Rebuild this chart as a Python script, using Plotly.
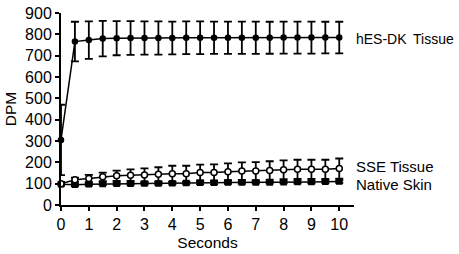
import plotly.graph_objects as go

seconds = [0, 0.5, 1, 1.5, 2, 2.5, 3, 3.5, 4, 4.5, 5, 5.5, 6, 6.5, 7, 7.5, 8, 8.5, 9, 9.5, 10]

hes_mean = [305, 766, 773, 780, 782, 783, 783, 783, 783, 784, 784, 784, 784, 784, 784, 784, 785, 785, 785, 785, 785]
hes_err = [165, 93, 88, 83, 80, 79, 78, 78, 77, 77, 77, 76, 76, 76, 76, 75, 75, 75, 75, 74, 74]

sse_mean = [100, 118, 124, 132, 137, 140, 141, 144, 147, 147, 152, 152, 156, 159, 159, 162, 165, 167, 167, 167, 171]
sse_err = [8, 10, 17, 20, 24, 27, 31, 33, 37, 37, 37, 38, 39, 41, 42, 43, 44, 45, 45, 45, 47]

nat_mean = [97, 95, 97, 99, 100, 100, 101, 101, 102, 103, 104, 104, 105, 105, 106, 106, 107, 108, 108, 109, 110]
nat_err = [6, 6, 6, 6, 6, 6, 6, 6, 6, 6, 6, 6, 6, 6, 6, 6, 6, 6, 6, 6, 6]

series_labels = ["hES-DK\u2009 Tissue", "SSE Tissue", "Native Skin"]
label_y = [778, 180, 96]
label_size = [14, 15, 15]

x_ticks = list(range(0, 11))
y_ticks = list(range(0, 901, 100))

FONT = "Liberation Sans, Arial, sans-serif"

fig = go.Figure()

def add_series(y, err, symbol, size, fillcolor):
    fig.add_trace(go.Scatter(
        x=seconds, y=y, mode="lines+markers",
        line=dict(color="black", width=1.5),
        marker=dict(symbol=symbol, size=size, color=fillcolor,
                    line=dict(color="black", width=1.5)),
        error_y=dict(type="data", array=err, visible=True, color="black",
                     thickness=1.8, width=4),
        cliponaxis=False, showlegend=False,
    ))

add_series(nat_mean, nat_err, "square", 5, "black")
add_series(sse_mean, sse_err, "circle", 6, "white")
add_series(hes_mean, hes_err, "circle", 5, "black")

for lab, yy, sz in zip(series_labels, label_y, label_size):
    fig.add_annotation(x=1.0, y=yy, xref="paper", yref="y", text=lab,
                       showarrow=False, xanchor="left", yanchor="middle",
                       font=dict(family=FONT, size=sz, color="black"))

fig.update_layout(
    width=459, height=254,
    margin=dict(l=61, r=105, t=13, b=49),
    paper_bgcolor="white", plot_bgcolor="white",
    font=dict(family=FONT, color="black"),
)
fig.update_xaxes(
    range=[0, 10.53], tickvals=x_ticks, ticktext=[str(v) for v in x_ticks],
    showline=True, linecolor="black", linewidth=2, showgrid=False, zeroline=False,
    ticks="outside", ticklen=4, tickwidth=2, tickcolor="black",
    tickfont=dict(size=16, family=FONT), automargin=False,
    title=dict(text="Seconds", font=dict(size=15.5, family=FONT), standoff=5),
)
fig.update_yaxes(
    range=[0, 900], tickvals=y_ticks, ticktext=[str(v) for v in y_ticks],
    showline=True, linecolor="black", linewidth=2, showgrid=False, zeroline=False,
    ticks="outside", ticklen=4, tickwidth=2, tickcolor="black",
    tickfont=dict(size=16, family=FONT), automargin=False,
    title=dict(text="DPM", font=dict(size=15.5, family=FONT), standoff=5),
)

fig.write_html("out.html", config={"displayModeBar": False},
               post_script="document.body.style.margin='0';")
